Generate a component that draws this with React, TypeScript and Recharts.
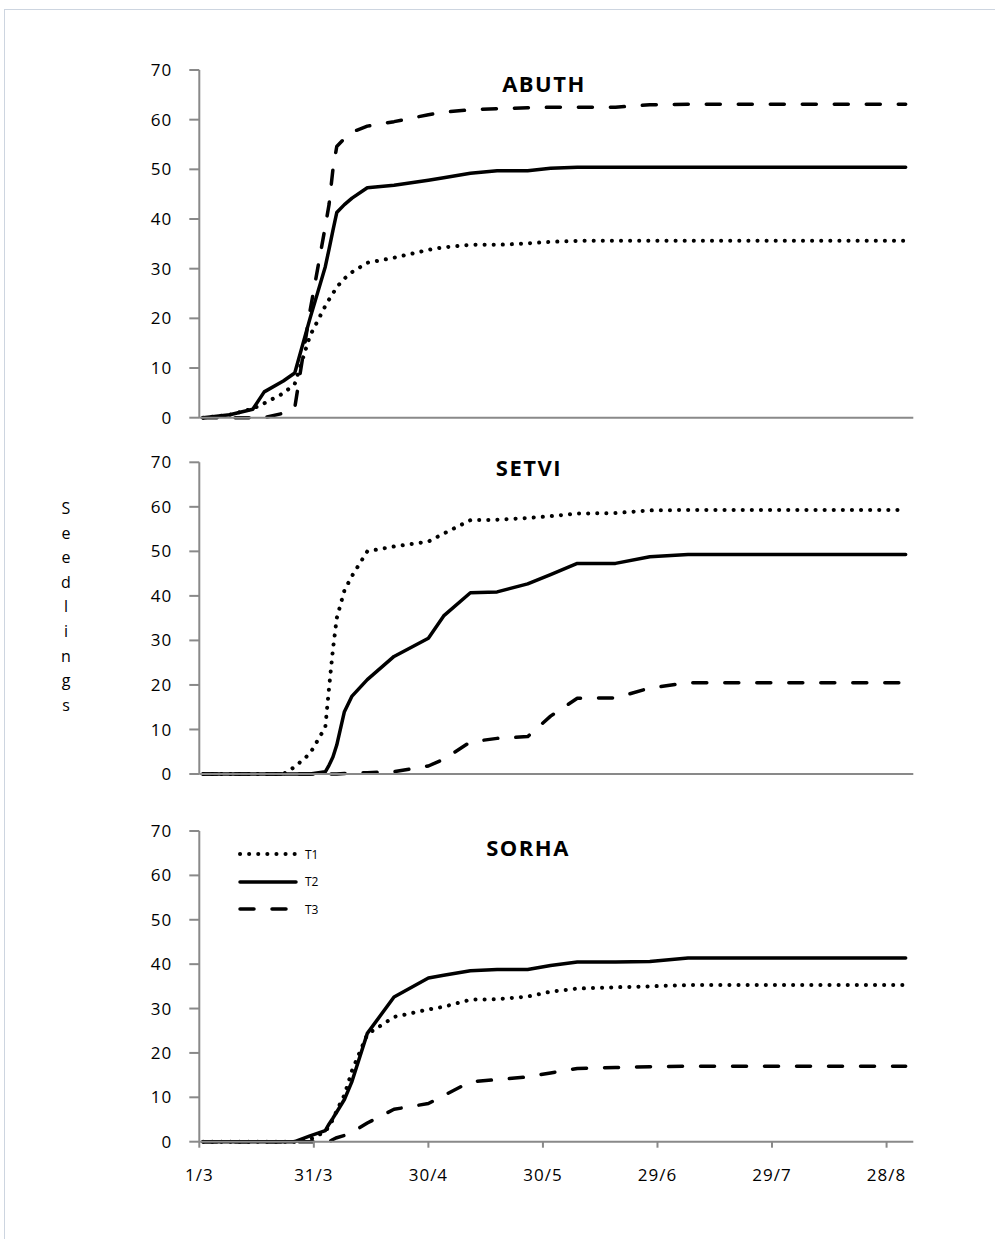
import React from 'react';
import { LineChart, Line, XAxis, YAxis } from 'recharts';

// Sampling dates, as days counted from 1 March
const DAYS = [1, 8, 14, 17, 22, 25, 29, 33, 34, 35, 36, 38, 40, 44, 51, 60, 64, 71, 78, 86, 92, 99, 109, 118, 128, 185];

const TICK_DAYS = [0, 30, 60, 90, 120, 150, 180];
const TICK_LABELS = ['1/3', '31/3', '30/4', '30/5', '29/6', '29/7', '28/8'];
const Y_TICKS = [0, 10, 20, 30, 40, 50, 60, 70];
const SERIES = ['T1', 'T2', 'T3'];
const Y_TITLE = 'Seedlings';

// Cumulative seedlings per treatment
const ABUTH_T1 = [0, 0.6, 1.8, 2.9, 4.9, 6.8, 16.5, 22.5, 23.8, 25, 26.3, 28, 29.3, 31.2, 32.2, 33.8, 34.3, 34.8, 34.8, 35.1, 35.4, 35.6, 35.6, 35.6, 35.6, 35.6];
const ABUTH_T2 = [0, 0.6, 1.7, 5.2, 7.4, 9, 20, 30.4, 34, 37.7, 41.3, 42.9, 44.2, 46.3, 46.8, 47.8, 48.3, 49.2, 49.7, 49.7, 50.2, 50.4, 50.4, 50.4, 50.4, 50.4];
const ABUTH_T3 = [0, 0, 0, 0, 0.9, 2, 21.5, 38.5, 43, 50, 54.6, 56.2, 57.5, 58.7, 59.6, 61, 61.5, 62, 62.2, 62.4, 62.5, 62.5, 62.5, 63, 63.1, 63.1];

const SETVI_T1 = [0, 0, 0, 0, 0, 1.6, 4.6, 10.5, 19.5, 28, 35, 41.2, 44.5, 50, 51.1, 52.2, 54, 57, 57.1, 57.5, 57.9, 58.5, 58.6, 59.2, 59.3, 59.3];
const SETVI_T2 = [0, 0, 0, 0, 0, 0, 0, 0.5, 2, 3.8, 6.5, 14, 17.5, 21.2, 26.4, 30.5, 35.5, 40.7, 40.9, 42.7, 44.8, 47.3, 47.3, 48.8, 49.3, 49.3];
const SETVI_T3 = [0, 0, 0, 0, 0, 0, 0, 0, 0, 0, 0, 0.1, 0.2, 0.3, 0.5, 1.8, 3.3, 7.2, 8, 8.4, 13, 17, 17.1, 19.3, 20.5, 20.5];

const SORHA_T1 = [0, 0, 0, 0, 0, 0, 0.5, 2.3, 3.5, 5, 7, 10.5, 16, 24.2, 28.1, 29.8, 30.4, 32, 32.1, 32.7, 33.8, 34.5, 34.8, 35, 35.3, 35.3];
const SORHA_T2 = [0, 0, 0, 0, 0, 0, 1.3, 2.5, 4, 5.3, 6.7, 9.5, 13.6, 24.4, 32.6, 36.9, 37.5, 38.5, 38.8, 38.8, 39.7, 40.5, 40.5, 40.6, 41.4, 41.4];
const SORHA_T3 = [0, 0, 0, 0, 0, 0, 0, 0, 0, 0.5, 0.9, 1.4, 2.1, 4.2, 7.3, 8.6, 10.4, 13.5, 14, 14.6, 15.5, 16.5, 16.7, 16.9, 17, 17];

const FONT = '"Open Sans", "DejaVu Sans", sans-serif';
const AXIS = '#898989';
const W = 995;
const PLOT_LEFT = 199.3;
const PLOT_RIGHT = 913.3;
const Y_AXIS_W = 80;

const LINE_STYLES: Record<string, { dash?: string; width: number }> = {
  T1: { dash: '0.1 9', width: 4 },
  T2: { width: 3.5 },
  T3: { dash: '14 18', width: 3.5 },
};

function buildRows(t1: number[], t2: number[], t3: number[]) {
  return DAYS.map((d, i) => ({ day: d, T1: t1[i], T2: t2[i], T3: t3[i] }));
}

type PanelProps = {
  title: string;
  rows: ReturnType<typeof buildRows>;
  top: number;
  height: number;
  plotTop: number;
  plotBottom: number;
  showLabels: boolean;
  titleX: number;
  titleY: number;
  legend?: boolean;
};

// Key of line styles, drawn at the upper left of the plot
const LegendBox = ({ left, top }: { left: number; top: number }) => (
  <div style={{ position: 'absolute', left, top, fontFamily: FONT, fontSize: 12, color: '#000' }}>
    {SERIES.map((s) => (
      <div key={s} style={{ display: 'flex', alignItems: 'center', height: 27.5 }}>
        <svg width={68} height={10} style={{ display: 'block' }}>
          <line
            x1={3}
            x2={59}
            y1={5}
            y2={5}
            stroke="#000"
            strokeWidth={LINE_STYLES[s].width}
            strokeLinecap="round"
            strokeDasharray={LINE_STYLES[s].dash}
          />
        </svg>
        <span>{s}</span>
      </div>
    ))}
  </div>
);

// Shared y-axis title, one letter per line
const VerticalTitle = () => (
  <div
    style={{
      position: 'absolute',
      left: 56,
      top: 496,
      width: 20,
      textAlign: 'center',
      fontFamily: FONT,
      fontSize: 16,
      lineHeight: '24.6px',
      color: '#000',
    }}
  >
    {Y_TITLE.split('').map((c, i) => (
      <div key={i}>{c}</div>
    ))}
  </div>
);

function Panel(p: PanelProps) {
  const xAxisH = p.showLabels ? 45 : 10;
  const margin = {
    top: p.plotTop - p.top,
    bottom: p.height - (p.plotBottom - p.top) - xAxisH,
    left: PLOT_LEFT - Y_AXIS_W,
    right: W - PLOT_RIGHT,
  };
  return (
    <div style={{ position: 'absolute', left: 0, top: p.top, width: W, height: p.height }}>
      <LineChart width={W} height={p.height} data={p.rows} margin={margin}>
        <XAxis
          dataKey="day"
          type="number"
          domain={[0, 187]}
          ticks={TICK_DAYS}
          interval={0}
          height={xAxisH}
          axisLine={{ stroke: AXIS, strokeWidth: 2 }}
          tickLine={{ stroke: AXIS, strokeWidth: 2 }}
          tickSize={6}
          tickMargin={21}
          tick={p.showLabels ? { fill: '#000', fontSize: 17, fontFamily: FONT, letterSpacing: 1 } : false}
          tickFormatter={(v: number) => TICK_LABELS[TICK_DAYS.indexOf(v)] ?? ''}
        />
        <YAxis
          type="number"
          domain={[0, 70]}
          ticks={Y_TICKS}
          interval={0}
          width={Y_AXIS_W}
          axisLine={{ stroke: AXIS, strokeWidth: 2 }}
          tickLine={{ stroke: AXIS, strokeWidth: 2 }}
          tickSize={10}
          tickMargin={17}
          tick={{ fill: '#000', fontSize: 17, fontFamily: FONT, letterSpacing: 1 }}
        />
        {SERIES.map((s) => (
          <Line
            key={s}
            dataKey={s}
            type="linear"
            stroke="#000"
            strokeWidth={LINE_STYLES[s].width}
            strokeLinecap="round"
            strokeLinejoin="round"
            strokeDasharray={LINE_STYLES[s].dash}
            dot={false}
            activeDot={false}
            isAnimationActive={false}
          />
        ))}
      </LineChart>
      {p.legend ? <LegendBox left={237} top={854 - 13.75 - p.top} /> : null}
      <div
        style={{
          position: 'absolute',
          left: p.titleX,
          top: p.titleY - p.top,
          transform: 'translate(-50%, -50%)',
          fontFamily: FONT,
          fontWeight: 700,
          fontSize: 22,
          letterSpacing: 1.5,
          color: '#000',
          whiteSpace: 'nowrap',
        }}
      >
        {p.title}
      </div>
    </div>
  );
}

export default function App() {
  return (
    <div
      style={{
        position: 'absolute',
        left: 0,
        top: 0,
        width: W,
        height: 1239,
        background: '#fff',
        overflow: 'hidden',
      }}
    >
      <div
        style={{
          position: 'absolute',
          left: 4,
          top: 9,
          width: 1100,
          height: 1400,
          border: '1.5px solid #cdd5e0',
        }}
      />
      <Panel
        title="ABUTH"
        rows={buildRows(ABUTH_T1, ABUTH_T2, ABUTH_T3)}
        top={40}
        height={400}
        plotTop={70}
        plotBottom={417.7}
        showLabels={false}
        titleX={544}
        titleY={83}
      />
      <Panel
        title="SETVI"
        rows={buildRows(SETVI_T1, SETVI_T2, SETVI_T3)}
        top={440}
        height={350}
        plotTop={462.3}
        plotBottom={774}
        showLabels={false}
        titleX={529}
        titleY={467}
      />
      <Panel
        title="SORHA"
        rows={buildRows(SORHA_T1, SORHA_T2, SORHA_T3)}
        top={800}
        height={420}
        plotTop={831}
        plotBottom={1141.7}
        showLabels
        titleX={528}
        titleY={847}
        legend
      />
      <VerticalTitle />
    </div>
  );
}
